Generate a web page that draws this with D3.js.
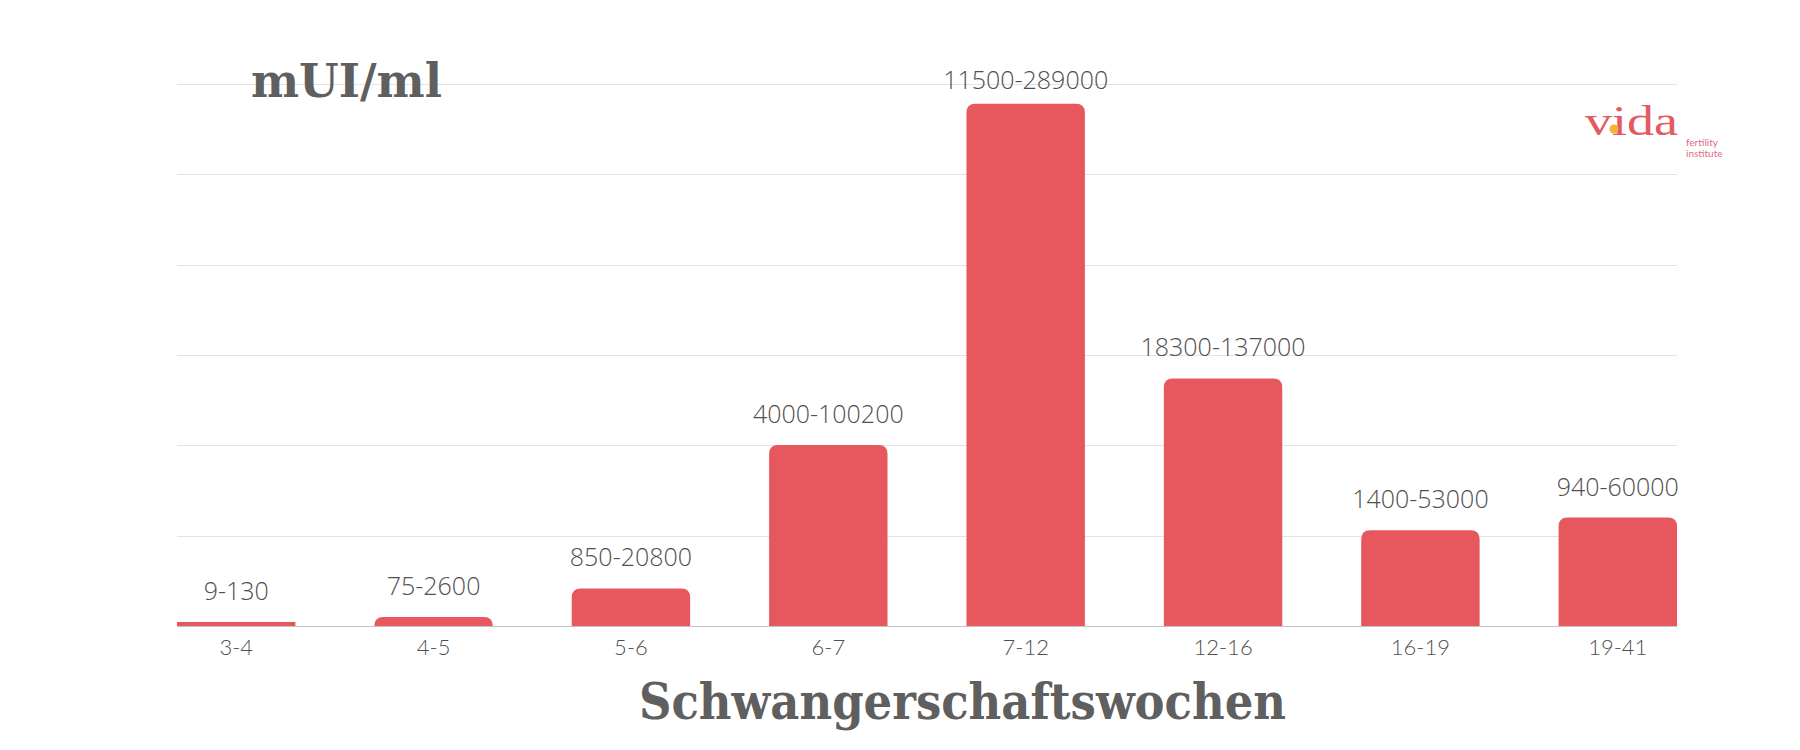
<!DOCTYPE html>
<html>
<head>
<meta charset="utf-8">
<script src="https://cdn.jsdelivr.net/npm/d3@7"></script>
<style>
  html, body { margin: 0; padding: 0; background: #ffffff; }
  svg { display: block; }
</style>
</head>
<body>
<svg id="chart" width="1800" height="750"></svg>
<script>
// ---- data ----
const categories = ["3-4", "4-5", "5-6", "6-7", "7-12", "12-16", "16-19", "19-41"];
const lowValues  = [9, 75, 850, 4000, 11500, 18300, 1400, 940];
const highValues = [130, 2600, 20800, 100200, 289000, 137000, 53000, 60000];
const gridTicks  = [0, 50000, 100000, 150000, 200000, 250000, 300000];
const yTitle = "mUI/ml";
const xTitle = "Schwangerschaftswochen";

(function () {
const data = categories.map((c, i) => ({ cat: c, lo: lowValues[i], hi: highValues[i] }));

const svg = d3.select("#chart");
const pLeft = 177, pRight = 1677, pTop = 84, pBottom = 626;

const x = d3.scaleBand().domain(categories).range([pLeft, pRight])
  .paddingInner(0.4).paddingOuter(0);
const y = d3.scaleLinear().domain([0, 300000]).range([pBottom, pTop]);

// grid lines
svg.append("g").selectAll("line").data(gridTicks.filter(d => d > 0)).join("line")
  .attr("x1", pLeft).attr("x2", pRight)
  .attr("y1", d => Math.round(y(d)) + 0.5).attr("y2", d => Math.round(y(d)) + 0.5)
  .attr("stroke", "#e3e3e3").attr("stroke-width", 1);

// bars with rounded top corners
const r = 9;
function barPath(d) {
  const x0 = x(d.cat), w = x.bandwidth();
  let h = pBottom - y(d.hi);
  if (h < 2) {
    return `M${x0},${pBottom} L${x0},${pBottom - 4} L${x0 + w},${pBottom - 4} L${x0 + w},${pBottom} Z`;
  }
  h = Math.max(h, r);
  const t = pBottom - h;
  return `M${x0},${pBottom} L${x0},${t + r} Q${x0},${t} ${x0 + r},${t} L${x0 + w - r},${t} Q${x0 + w},${t} ${x0 + w},${t + r} L${x0 + w},${pBottom} Z`;
}
function drawnTop(d) {
  const h = pBottom - y(d.hi);
  if (h < 2) return pBottom - 4;
  return pBottom - Math.max(h, r);
}

svg.append("g").selectAll("path").data(data).join("path")
  .attr("d", barPath)
  .attr("fill", "#e7575e");

// baseline
svg.append("line")
  .attr("x1", pLeft).attr("x2", pRight)
  .attr("y1", pBottom + 0.5).attr("y2", pBottom + 0.5)
  .attr("stroke", "#c4c4c4").attr("stroke-width", 1);

// value labels
svg.append("g").selectAll("text").data(data).join("text")
  .attr("x", d => x(d.cat) + x.bandwidth() / 2)
  .attr("y", d => Math.max(drawnTop(d) - 22, 89))
  .attr("text-anchor", "middle")
  .attr("font-family", "'Open Sans', sans-serif")
  .attr("font-weight", 300)
  .attr("font-size", 25)
  .attr("fill", "#505050")
  .text(d => `${d.lo}-${d.hi}`);

// x axis tick labels
const xAxis = d3.axisBottom(x).tickSize(0).tickPadding(0);
const gx = svg.append("g").attr("transform", `translate(0,${pBottom})`).call(xAxis);
gx.select(".domain").remove();
gx.selectAll("text")
  .attr("y", 29).attr("dy", 0)
  .attr("font-family", "Lato, sans-serif")
  .attr("font-weight", 300)
  .attr("font-size", 22)
  .attr("fill", "#505050");

// y title
svg.append("text")
  .attr("x", 251).attr("y", 97)
  .attr("font-family", "'DejaVu Serif', serif")
  .attr("font-weight", "bold")
  .attr("font-size", 46)
  .attr("textLength", 191).attr("lengthAdjust", "spacingAndGlyphs")
  .attr("fill", "#5f5f5f")
  .text(yTitle);

// x title
svg.append("text")
  .attr("x", 639).attr("y", 719)
  .attr("font-family", "'DejaVu Serif', serif")
  .attr("font-weight", "bold")
  .attr("font-size", 50)
  .attr("textLength", 647).attr("lengthAdjust", "spacingAndGlyphs")
  .attr("fill", "#5f5f5f")
  .text(xTitle);

// logo
const logo = svg.append("g");
logo.append("text")
  .attr("x", 1585).attr("y", 135)
  .attr("font-family", "'Liberation Serif', serif")
  .attr("font-size", 42)
  .attr("textLength", 93).attr("lengthAdjust", "spacingAndGlyphs")
  .attr("fill", "#e35a63")
  .text("vida");
logo.append("circle").attr("cx", 1614).attr("cy", 129).attr("r", 4.5).attr("fill", "#f5b335");
logo.append("text")
  .attr("x", 1686).attr("y", 146)
  .attr("font-family", "Lato, sans-serif")
  .attr("font-size", 10)
  .attr("fill", "#e06b84")
  .text("fertility");
logo.append("text")
  .attr("x", 1686).attr("y", 157)
  .attr("font-family", "Lato, sans-serif")
  .attr("font-size", 10)
  .attr("fill", "#e06b84")
  .text("institute");
})();
</script>
</body>
</html>
